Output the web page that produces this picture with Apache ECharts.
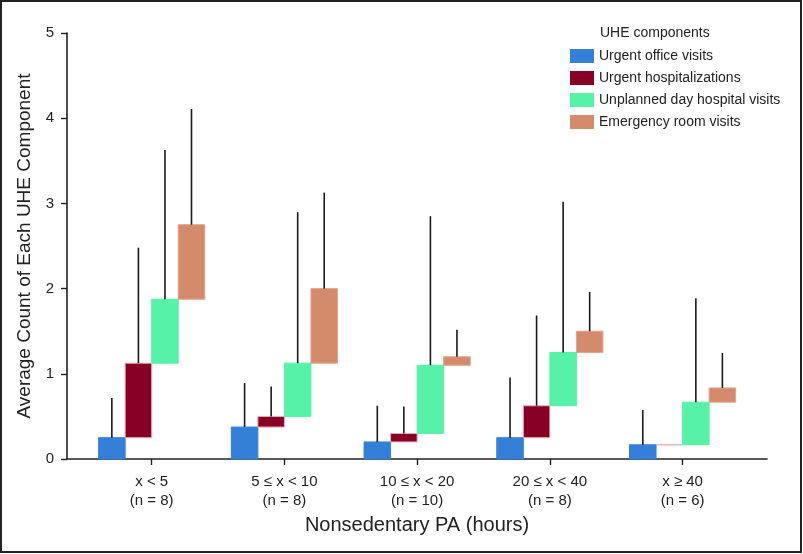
<!DOCTYPE html>
<html>
<head>
<meta charset="utf-8">
<script src="https://cdn.jsdelivr.net/npm/echarts@6/dist/echarts.min.js"></script>
<style>
  html, body { margin: 0; padding: 0; background: #fff; }
  #chart { width: 803px; height: 554px; }
</style>
</head>
<body>
<div id="chart"></div>
<script>
// groups of nonsedentary PA
var categories = ["x < 5\n(n = 8)", "5 ≤ x < 10\n(n = 8)", "10 ≤ x < 20\n(n = 10)", "20 ≤ x < 40\n(n = 8)", "x ≥ 40\n(n = 6)"];
var components = ["Urgent office visits", "Urgent hospitalizations", "Unplanned day hospital visits", "Emergency room visits"];
// mean counts of each component (stacked like a waterfall)
var officeMean = [0.25, 0.375, 0.2, 0.25, 0.167];
var hospMean = [0.875, 0.125, 0.1, 0.375, 0];
var dayMean = [0.75, 0.625, 0.8, 0.625, 0.5];
var erMean = [0.875, 0.875, 0.1, 0.25, 0.167];
// upper error bars (SD)
var officeSd = [0.465, 0.516, 0.425, 0.707, 0.408];
var hospSd = [1.355, 0.352, 0.317, 1.059, 0];
var daySd = [1.752, 1.772, 1.75, 1.77, 1.221];
var erSd = [1.358, 1.127, 0.316, 0.462, 0.41];
var yTicks = [0, 1, 2, 3, 4, 5];

var colors = ["#3480d9", "#890025", "#56f2a8", "#d38b6b"];
var strokes = ["#3480d9", "#e4b0bc", "#56f2a8", "#e0a68c"];
var means = [officeMean, hospMean, dayMean, erMean];
var sds = [officeSd, hospSd, daySd, erSd];
var offsets = [-0.3, -0.1, 0.1, 0.3];

var chart = echarts.init(document.getElementById("chart"));

// build the floating bars: each starts where the previous component ended
var cum = categories.map(function () { return 0; });
var series = components.map(function (name, k) {
  var data = categories.map(function (c, i) {
    var base = cum[i];
    var top = base + means[k][i];
    cum[i] = top;
    return [i + 1, base, top, sds[k][i]];
  });
  return {
    name: name,
    type: "custom",
    itemStyle: { color: colors[k] },
    data: data,
    renderItem: function (params, api) {
      var x = api.value(0) + offsets[k];
      var base = api.value(1), top = api.value(2), sd = api.value(3);
      var p0 = api.coord([x - 0.1, top]);
      var p1 = api.coord([x + 0.1, base]);
      var children = [{
        type: "rect",
        shape: { x: p0[0], y: p0[1], width: p1[0] - p0[0], height: p1[1] - p0[1] },
        style: { fill: colors[k], stroke: strokes[k], lineWidth: 1 }
      }];
      if (sd > 0) {
        var a = api.coord([x, top]);
        var b = api.coord([x, top + sd]);
        children.push({
          type: "line",
          shape: { x1: a[0], y1: a[1], x2: b[0], y2: b[1] },
          style: { stroke: "#1a1a1a", lineWidth: 1.6 }
        });
      }
      return { type: "group", children: children };
    }
  };
});

chart.setOption({
  animation: false,
  textStyle: { fontFamily: "Liberation Sans" },
  title: {
    text: "UHE components",
    left: 600,
    top: 26,
    padding: 0,
    textStyle: { fontSize: 14, fontWeight: "normal", color: "#222", fontFamily: "Liberation Sans" }
  },
  legend: {
    data: components,
    orient: "vertical",
    left: 570,
    top: 49,
    padding: 0,
    icon: "rect",
    itemWidth: 24,
    itemHeight: 14,
    itemGap: 8,
    textStyle: { fontSize: 14, color: "#222" }
  },
  grid: { left: 67, right: 36, top: 33, bottom: 95 },
  xAxis: {
    type: "value",
    min: 0.362,
    max: 5.636,
    name: "Nonsedentary PA (hours)",
    nameLocation: "middle",
    nameGap: 56,
    nameTextStyle: { fontSize: 20, color: "#222" },
    splitLine: { show: false },
    axisLine: { lineStyle: { color: "#222", width: 1.6 } },
    axisTick: { customValues: [1, 2, 3, 4, 5], length: 6, lineStyle: { color: "#222", width: 1.4 } },
    axisLabel: {
      customValues: [1, 2, 3, 4, 5],
      margin: 13,
      fontSize: 15,
      lineHeight: 19,
      color: "#222",
      formatter: function (v) { return categories[Math.round(v) - 1]; }
    }
  },
  yAxis: {
    type: "value",
    min: 0,
    max: 5,
    interval: 1,
    name: "Average Count of Each UHE Component",
    nameLocation: "middle",
    nameGap: 33,
    nameTextStyle: { fontSize: 19, color: "#222" },
    splitLine: { show: false },
    axisLine: { show: true, lineStyle: { color: "#222", width: 1.6 } },
    axisTick: { show: true, length: 6, lineStyle: { color: "#222", width: 1.4 } },
    axisLabel: {
      fontSize: 15,
      color: "#222",
      margin: 13,
      formatter: function (v) { return yTicks.indexOf(v) >= 0 ? String(v) : ""; }
    }
  },
  graphic: [{
    type: "rect",
    shape: { x: 1, y: 1, width: 800, height: 551 },
    style: { fill: "none", stroke: "#222", lineWidth: 2 },
    silent: true
  }],
  series: series
});
</script>
</body>
</html>
